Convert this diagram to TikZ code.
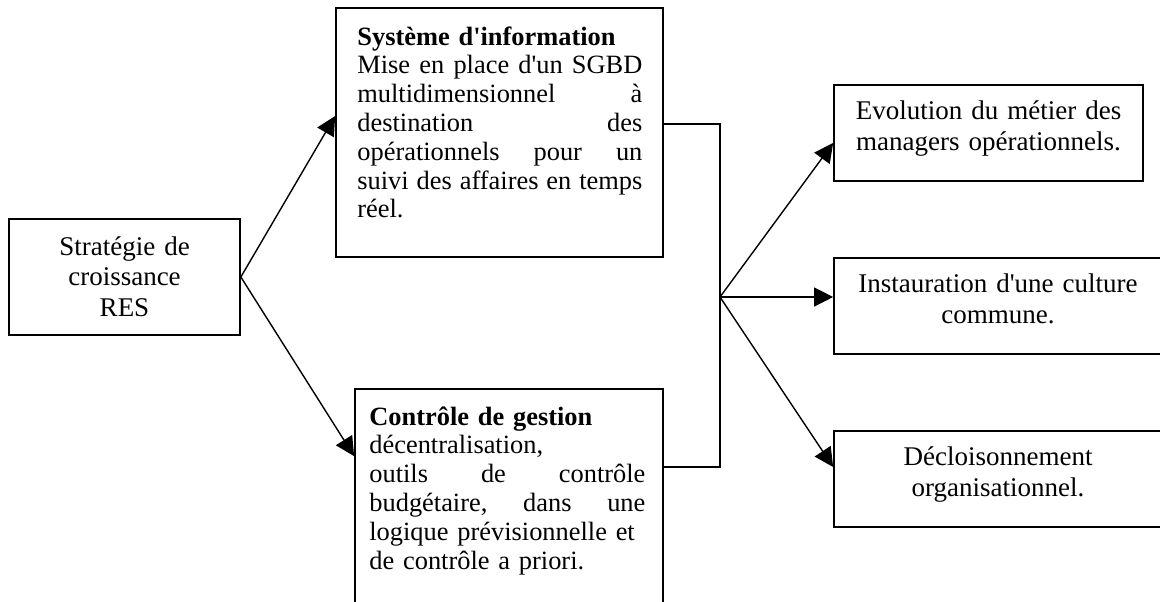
\documentclass[tikz,border=0pt]{standalone}
\usepackage{fontspec}
\setmainfont{Liberation Serif}
\usetikzlibrary{arrows.meta}
\newcommand{\jline}[1]{\leavevmode\hbox to \hsize{#1}}
\newcommand{\apos}{\textquotesingle}
\begin{document}
\begin{tikzpicture}[x=0.5pt,y=-0.5pt,
  frame/.style={draw, line width=0.85pt, inner sep=0pt, rectangle},
  txtl/.style={inner sep=0pt, anchor=base west, align=left,
    font=\fontsize{13.2pt}{14.4pt}\selectfont},
  txtc/.style={inner sep=0pt, anchor=base, align=center, text width=165pt,
    font=\fontsize{13.5pt}{15.5pt}\selectfont},
  conn/.style={line width=0.7pt},
  arr/.style={conn, -{Triangle[length=9.5pt,width=9.5pt]}}]
\useasboundingbox (0,0) rectangle (1160,601);
\clip (0,0) rectangle (1160,601);
% boxes
\node[frame, minimum width=115.5pt, minimum height=58pt] (res) at (124.5,277) {};
\node[frame, minimum width=163.5pt, minimum height=124.5pt] (si) at (499.5,132.5) {};
\node[frame, minimum width=154pt, minimum height=135.5pt] (cg) at (509,524.5) {};
\node[frame, minimum width=154.5pt, minimum height=48pt] (evo) at (988.5,133) {};
\node[frame, minimum width=164pt, minimum height=48pt] (inst) at (998,306) {};
\node[frame, minimum width=164pt, minimum height=48pt] (decl) at (998,479) {};
% texts
\node[txtc, text width=110pt, font=\fontsize{13.5pt}{15.25pt}\selectfont] (tres) at (124.5,255) {Stratégie de\\croissance\\RES};
\node[txtl, text width=142.5pt] (tsi) at (357,45) {{\bfseries Système d\apos information}\\
\jline{Mise\hfill en\hfill place\hfill d\apos un\hfill SGBD}\\
\jline{multidimensionnel\hfill à}\\
\jline{destination\hfill des}\\
\jline{opérationnels\hfill pour\hfill un}\\
\jline{suivi\hfill des\hfill affaires\hfill en\hfill temps}\\
réel.};
\node[txtl, text width=138pt] (tcg) at (369,425) {{\bfseries Contrôle de gestion}\\
décentralisation,\\
\jline{outils\hfill de\hfill contrôle}\\
\jline{budgétaire,\hfill dans\hfill une}\\
logique prévisionnelle et\\
de contrôle a priori.};
\node[txtc] (tevo) at (988.5,119.3) {Evolution du métier des\\managers opérationnels.};
\node[txtc] (tinst) at (998,292.7) {Instauration d\apos une culture\\commune.};
\node[txtc] (tdecl) at (998,465) {Décloisonnement\\organisationnel.};
% connectors
\coordinate (hub) at (720,297);
\draw[arr] (res.east) -- ([yshift=8.25pt]si.west);
\draw[arr] (res.east) -- ([yshift=-34pt]cg.north west);
\draw[conn] ([yshift=4.25pt]si.east) -| (hub) |- ([yshift=-39.5pt]cg.north east);
\draw[arr] (hub) -- ([yshift=-5pt]evo.west);
\draw[arr] (hub) -- ([yshift=4.5pt]inst.west);
\draw[arr] (hub) -- ([yshift=6pt]decl.west);
\end{tikzpicture}
\end{document}
